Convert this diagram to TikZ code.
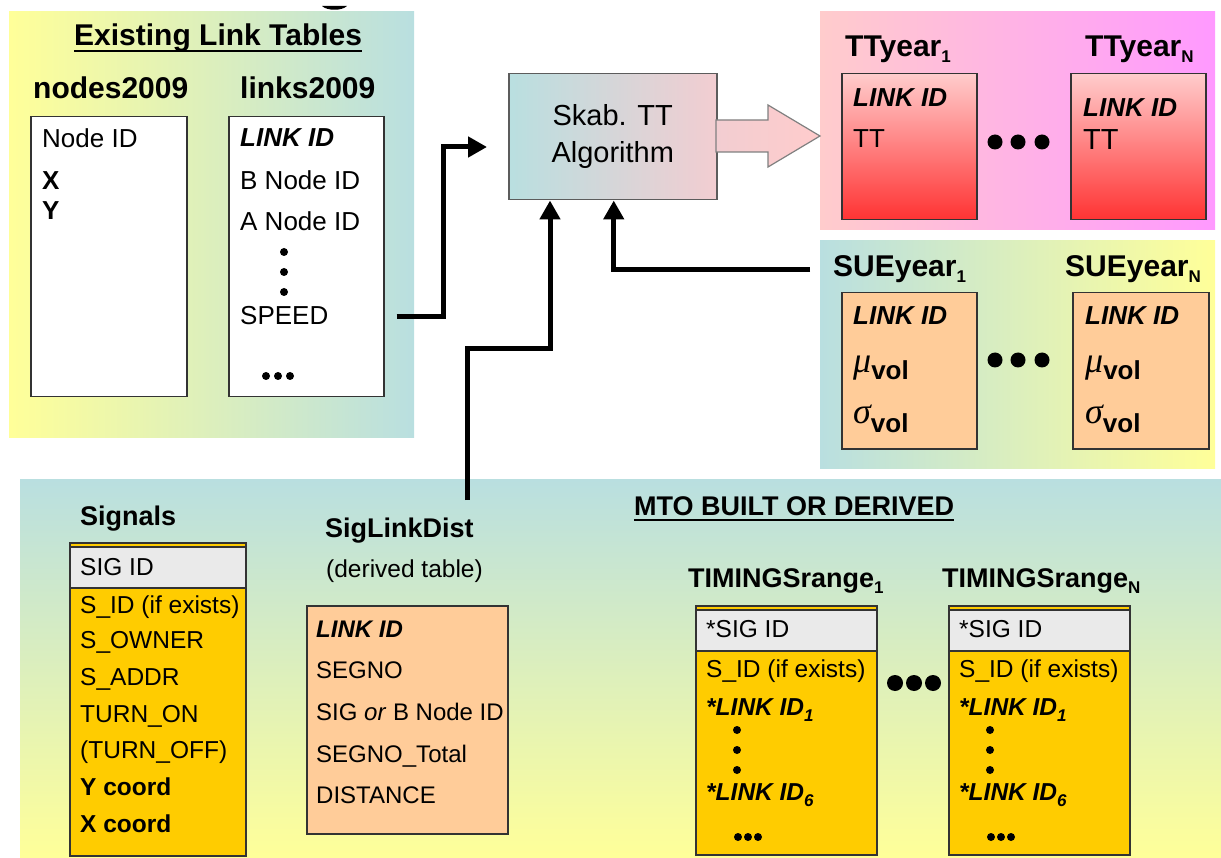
\documentclass[tikz,border=0pt]{standalone}
\usepackage{fontspec}
\setmainfont{Liberation Sans}
\newfontfamily\grk{Liberation Serif}
\usetikzlibrary{arrows.meta}
\definecolor{teal1}{HTML}{B9DFE0}
\definecolor{yel1}{HTML}{FFFF99}
\definecolor{pink1}{HTML}{FFCCCC}
\definecolor{mag1}{HTML}{FF99FF}
\definecolor{peach1}{HTML}{FFCC99}
\definecolor{gold1}{HTML}{FFCC00}
\definecolor{gray1}{HTML}{EAEAEA}
\definecolor{red1}{HTML}{FF3333}
\definecolor{edge1}{HTML}{333333}
\definecolor{algr}{HTML}{F2CDD1}
\newcommand{\ttlf}{\fontsize{30}{32}\selectfont\bfseries}
\newcommand{\subf}{\fontsize{27}{29}\selectfont\bfseries}
\newcommand{\rowf}{\fontsize{26}{28}\selectfont}
\newcommand{\lowf}{\fontsize{24.5}{26}\selectfont}
\newcommand{\algf}{\fontsize{29}{37}\selectfont}
\newcommand{\idx}[1]{\raisebox{-6pt}{\fontsize{17}{17}\selectfont\bfseries #1}}
\newcommand{\lk}{\bfseries\itshape LINK ID}
\newcommand{\grv}[2]{\raisebox{#2}{\fontsize{36}{36}\selectfont\grk\itshape #1}\textbf{vol}}
\tikzstyle{pnl}=[anchor=north west,draw=none,inner sep=0pt]
\tikzstyle{tbl}=[anchor=north west,draw=edge1,line width=1.5pt,inner sep=0pt]
\tikzstyle{rw}=[anchor=base west,inner sep=0pt,font=\rowf]
\tikzstyle{lw}=[anchor=base west,inner sep=0pt,font=\lowf]
\tikzstyle{hd}=[anchor=base west,inner sep=0pt,font=\ttlf]
\tikzstyle{hs}=[anchor=base west,inner sep=0pt,font=\subf]
\tikzstyle{flw}=[line width=5pt,-{Triangle[length=19pt,width=20pt]}]

\begin{document}
\begin{tikzpicture}[x=1pt,y=-1pt]
\useasboundingbox (0,0) rectangle (1221,858);
% background panels
\node[pnl,left color=yel1,right color=teal1,minimum width=405,minimum height=426] (lnkp) at (9,11) {};
\node[pnl,left color=pink1,right color=mag1,minimum width=395,minimum height=218] (ttp) at (820,11) {};
\node[pnl,left color=teal1,right color=yel1,minimum width=395,minimum height=228] (sue) at (820,240) {};
\node[pnl,top color=teal1,bottom color=yel1,minimum width=1201,minimum height=379] (mto) at (20,479) {};
\fill (322,6) -- (347,6) .. controls (342,11) and (327,11) .. (322,6);

% existing link tables
\node[hd] (elt) at (74,46) {Existing Link Tables};
\draw[line width=2.5pt] ([yshift=-5]elt.base west) -- ([yshift=-5]elt.base east);
\node[hd] (ndst) at (33,99) {nodes2009};
\node[hd] (lnkt) at (240,99) {links2009};
\node[tbl,fill=white,minimum width=156,minimum height=280] (nds) at (30,116) {};
\node[tbl,fill=white,minimum width=155,minimum height=280] (lnk) at (228,116) {};
\node[rw] (nid) at (42,148) {Node ID};
\node[rw,font=\rowf\bfseries] (nx) at (42,190) {X};
\node[rw,font=\rowf\bfseries] (ny) at (42,220) {Y};
\node[rw] (lid) at (240,147) {\lk};
\node[rw] (bid) at (240,190) {B Node ID};
\node[rw] (aid) at (240,231) {A Node ID};
\node[rw] (spd) at (240,325) {SPEED};
\foreach \y in {252,272,292} \fill (284,\y) circle (4);
\foreach \x in {266,278,290} \fill (\x,376) circle (4);

% algorithm
\node[tbl,left color=teal1,right color=algr,draw=edge1!80,minimum width=208,minimum height=126,align=center,font=\algf] (alg) at (508,73) {Skab. TT\\Algorithm};
\draw[draw=gray,line width=1.2pt,left color=algr,right color=pink1] (716,120) -- (768,120) -- (768,105) -- (820,136) -- (768,167) -- (768,152) -- (716,152) -- cycle;

% travel time tables
\node[hd] (tt1t) at (845,57) {TTyear\idx{1}};
\node[hd] (ttnt) at (1085,57) {TTyear\idx{N}};
\node[tbl,top color=pink1,bottom color=red1,minimum width=135,minimum height=146] (tt1) at (841,73) {};
\node[tbl,top color=pink1,bottom color=red1,minimum width=135,minimum height=146] (ttn) at (1070,73) {};
\node[rw] (tt1a) at (853,107) {\lk};
\node[rw] (tt1b) at (853,148) {TT};
\node[rw] (ttna) at (1083,117) {\lk};
\node[rw,font=\fontsize{29}{31}\selectfont] (ttnb) at (1083,150) {TT};
\foreach \x in {995,1018,1042} \fill (\x,142) circle (7.5);

% sue tables
\node[hd] (su1t) at (833,277) {SUEyear\idx{1}};
\node[hd] (sunt) at (1065,277) {SUEyear\idx{N}};
\node[tbl,fill=peach1,minimum width=135,minimum height=156] (su1) at (841,292) {};
\node[tbl,fill=peach1,minimum width=136,minimum height=156] (sun) at (1072,292) {};
\node[rw] (su1a) at (853,325) {\lk};
\node[rw] (su1b) at (853,380) {\grv{μ}{7pt}};
\node[rw] (su1c) at (853,432) {\grv{σ}{9pt}};
\node[rw] (suna) at (1085,325) {\lk};
\node[rw] (sunb) at (1085,380) {\grv{μ}{7pt}};
\node[rw] (sunc) at (1085,432) {\grv{σ}{9pt}};
\foreach \x in {995,1018,1042} \fill (\x,360) circle (7.5);

% mto built or derived
\node[hs] (mtot) at (634,515) {MTO BUILT OR DERIVED};
\draw[line width=2.5pt] (mtot.base west |- 0,520) -- (mtot.base east |- 0,520);

% signals
\node[hs] (sigt) at (80,525) {Signals};
\node[tbl,fill=gold1,minimum width=176,minimum height=313] (sig) at (69,542) {};
\node[tbl,fill=gray1,minimum width=176,minimum height=41] (sigh) at (69,546) {};
\node[lw] (s1) at (80,575) {SIG ID};
\node[lw] (s2) at (80,613) {S\_ID (if exists)};
\node[lw] (s3) at (80,648) {S\_OWNER};
\node[lw] (s4) at (80,685) {S\_ADDR};
\node[lw] (s5) at (80,722) {TURN\_ON};
\node[lw] (s6) at (80,758) {(TURN\_OFF)};
\node[lw,font=\lowf\bfseries] (s7) at (80,795) {Y coord};
\node[lw,font=\lowf\bfseries] (s8) at (80,832) {X coord};

% siglinkdist
\node[hs] (sldt) at (325,537) {SigLinkDist};
\node[lw] (sldd) at (326,577) {(derived table)};
\node[tbl,fill=peach1,minimum width=201,minimum height=228] (sld) at (306,605) {};
\node[lw,font=\fontsize{24}{26}\selectfont] (d1) at (316,637) {\lk};
\node[lw,font=\fontsize{24}{26}\selectfont] (d2) at (316,678) {SEGNO};
\node[lw,font=\fontsize{24}{26}\selectfont] (d3) at (316,720) {SIG \textit{or} B Node ID};
\node[lw,font=\fontsize{24}{26}\selectfont] (d4) at (316,762) {SEGNO\_Total};
\node[lw,font=\fontsize{24}{26}\selectfont] (d5) at (316,803) {DISTANCE};

% timings tables
\foreach \x/\n in {688/1,942/N} \node[hs] (tmt\n) at (\x,587) {TIMINGSrange\idx{\n}};
\foreach \x/\n in {695/1,948/N} {
  \node[tbl,fill=gold1,minimum width=181,minimum height=249] (tm\n) at (\x,605) {};
  \node[tbl,fill=gray1,minimum width=181,minimum height=41] (tmh\n) at (\x,609) {};
  \node[lw] (tma\n) at (\x+11,637) {*SIG ID};
  \node[lw] (tmb\n) at (\x+11,677) {S\_ID (if exists)};
  \node[lw] (tmc\n) at (\x+11,715) {\bfseries\itshape *LINK ID\idx{1}};
  \node[lw] (tmd\n) at (\x+11,800) {\bfseries\itshape *LINK ID\idx{6}};
  \foreach \y in {730,750,770} \fill (\x+42,\y) circle (4);
  \foreach \d in {-10,0,10} \fill (\x+53+\d,837) circle (4);
}
\foreach \x in {895,914,933} \fill (\x,683) circle (8);

% connectors
\coordinate (k1) at (443,147);
\coordinate (k2) at (467,500);
\coordinate (k3) at (550,349);
\draw[flw] ([xshift=12]spd.west -| lnk.east) -| (k1) -- ([xshift=-21]k1 -| alg.west);
\draw[flw] (k2) |- (k3) -- (k3 |- alg.south);
\draw[flw] ([xshift=-10]sue.west |- su1t.west) -| ([xshift=1]alg.south);
\end{tikzpicture}
\end{document}
